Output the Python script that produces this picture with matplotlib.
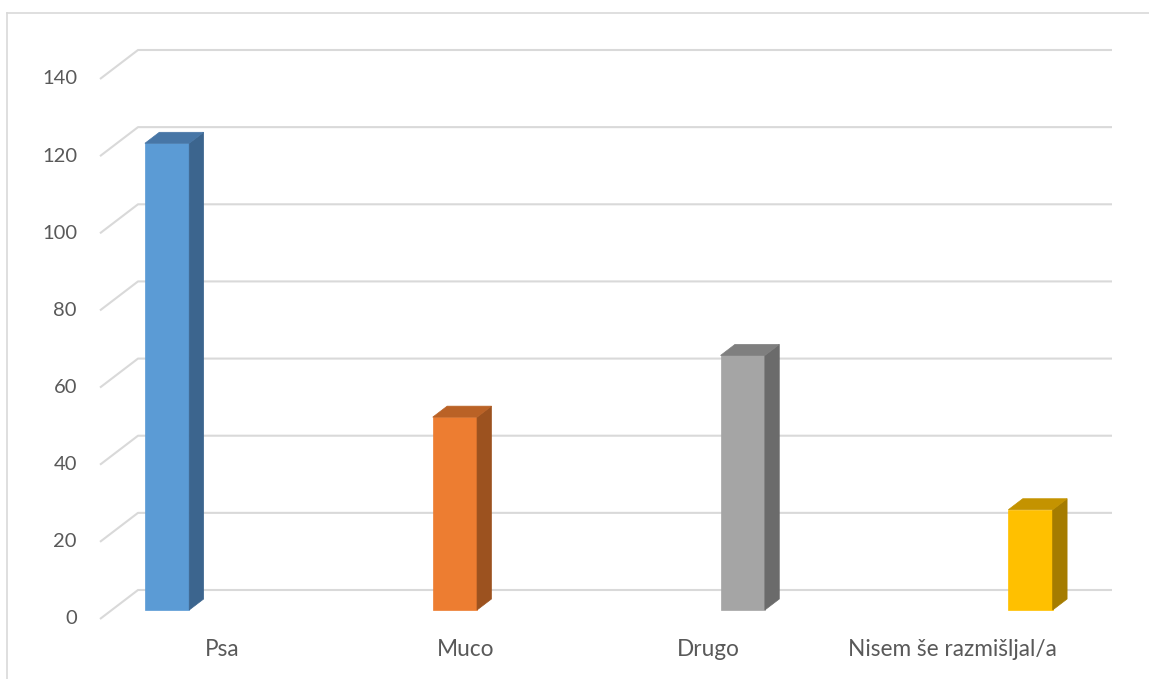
import matplotlib.pyplot as plt
from matplotlib.patches import Polygon

categories = ['Psa', 'Muco', 'Drugo', 'Nisem še razmišljal/a']
values = [121, 50, 66, 26]
yticks = [0, 20, 40, 60, 80, 100, 120, 140]

front_colors = ['#5B9BD5', '#ED7D31', '#A5A5A5', '#FFC000']
top_colors = ['#4776A6', '#BA6226', '#7F7F7F', '#C49300']
side_colors = ['#3C658E', '#9C521F', '#6B6B6B', '#A57C00']

plt.rcParams['font.family'] = ['Lato', 'DejaVu Sans']

fig = plt.figure(figsize=(11.49, 6.79), dpi=100)
W, H = 1149, 679
# front plane of the 3d box: x 100..1074 px, y (from top) 619..79 px
ax = fig.add_axes([100 / W, 60 / H, 974 / W, 540 / H])
ax.set_xlim(-0.5, 3.5)
ax.set_ylim(0, 140)
ax.axis('off')

# depth vector (front plane -> back wall) in data units
DX = 38 / 243.5
DY = 29 / 540 * 140
grid_c = '#D9D9D9'

# chart area border
fig.add_artist(plt.Line2D([7 / W, 7 / W], [0, 1 - 13 / H], color=grid_c, lw=1.2))
fig.add_artist(plt.Line2D([7 / W, 1], [1 - 13 / H, 1 - 13 / H], color=grid_c, lw=1.2))

# gridlines: diagonal on side floor/wall + back wall line
for v in yticks:
    ax.plot([-0.5, -0.5 + DX, 3.5 + DX], [v, v + DY, v + DY],
            color=grid_c, lw=1.5, clip_on=False, solid_capstyle='butt', zorder=1)
    ax.text(-0.5 - 23 / 243.5, v, str(v), ha='right', va='center',
            fontsize=14.5, color='#595959')

slot = 0.182
z0, z1 = 9 / 29, 20 / 29
for i, (val, fc, tc, sc) in enumerate(zip(values, front_colors, top_colors, side_colors)):
    xl = i + (i - 1.5) * slot - slot / 2
    xr = xl + slot
    ox0, oy0 = z0 * DX, z0 * DY
    ox1, oy1 = z1 * DX, z1 * DY
    front = [(xl + ox0, oy0), (xr + ox0, oy0), (xr + ox0, val + oy0), (xl + ox0, val + oy0)]
    side = [(xr + ox0, oy0), (xr + ox1, oy1), (xr + ox1, val + oy1), (xr + ox0, val + oy0)]
    top = [(xl + ox0, val + oy0), (xr + ox0, val + oy0), (xr + ox1, val + oy1), (xl + ox1, val + oy1)]
    for pts, c in ((front, fc), (side, sc), (top, tc)):
        ax.add_patch(Polygon(pts, closed=True, facecolor=c, edgecolor=c, lw=0.5,
                             clip_on=False, zorder=3))

for i, name in enumerate(categories):
    ax.text(i, -31 / 540 * 140, name, ha='center', va='center',
            fontsize=16.3, color='#595959')

fig.savefig('out.png', dpi=100)
